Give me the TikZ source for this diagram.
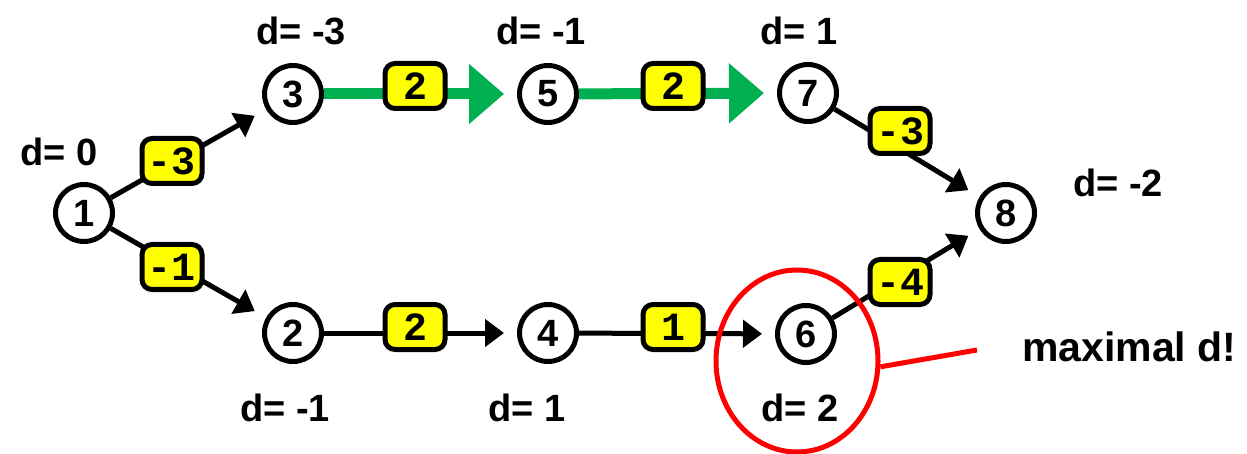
\documentclass[tikz,border=0pt]{standalone}
\usepackage{fontspec}
\setmainfont{Liberation Sans}
\newfontfamily\monof{Liberation Mono}
\usetikzlibrary{arrows.meta,shapes.geometric}
\definecolor{ogreen}{RGB}{0,176,80}
\definecolor{oyellow}{RGB}{255,255,0}
\definecolor{ored}{RGB}{255,0,0}
\tikzset{
  vtx/.style={circle, draw=black, line width=5pt, fill=white, minimum size=57pt, inner sep=0pt,
    font=\fontsize{38}{40}\selectfont\bfseries},
  wlbl/.style={rectangle, rounded corners=10pt, draw=black, line width=5pt, fill=oyellow,
    minimum width=60pt, minimum height=45pt, inner sep=0pt,
    font=\fontsize{40}{42}\selectfont\monof\bfseries},
  dlbl/.style={font=\fontsize{38}{40}\selectfont\bfseries, inner sep=0pt},
  edge/.style={line width=5pt, draw=black, shorten >=13pt, -{Triangle[length=19pt,width=27pt]}},
  gedge/.style={line width=11pt, draw=ogreen, shorten >=13pt, -{Triangle[length=35pt,width=58pt]}},
}
\begin{document}
\begin{tikzpicture}[x=1pt,y=-1pt]
\useasboundingbox (0,0) rectangle (1247,454);
% vertices
\node[vtx] (n1) at (84,213) {1};
\node[vtx] (n3) at (293,94) {3};
\node[vtx] (n5) at (548,94) {5};
\node[vtx] (n7) at (808,93) {7};
\node[vtx] (n8) at (1006,213) {8};
\node[vtx] (n2) at (293,333) {2};
\node[vtx] (n4) at (548,333) {4};
\node[vtx] (n6) at (806,334) {6};
% edges
\draw[edge] (n1) -- (n3);
\draw[edge] (n1) -- (n2);
\draw[gedge] (n3) -- (n5);
\draw[gedge] (n5) -- (n7);
\draw[edge] (n7) -- (n8);
\draw[edge] (n2) -- (n4);
\draw[edge] (n4) -- (n6);
\draw[edge] (n6) -- (n8);
% weights
\node[wlbl] (w13) at (172,161) {-3};
\node[wlbl] (w12) at (172,267) {-1};
\node[wlbl] (w35) at (415,86) {2};
\node[wlbl] (w57) at (673,86) {2};
\node[wlbl] (w78) at (900,131) {-3};
\node[wlbl] (w68) at (900,282) {-4};
\node[wlbl] (w24) at (415,327) {2};
\node[wlbl] (w46) at (673,327) {1};
% distance labels
\node[dlbl] (d3) at (301,31) {d= -3};
\node[dlbl] (d5) at (541,31) {d= -1};
\node[dlbl] (d7) at (799,31) {d= 1};
\node[dlbl] (d1) at (59,152) {d= 0};
\node[dlbl] (d8) at (1118,183) {d= -2};
\node[dlbl] (d2) at (285,408) {d= -1};
\node[dlbl] (d4) at (527,408) {d= 1};
\node[dlbl] (d6) at (800,408) {d= 2};
% highlight
\node[ellipse, draw=ored, line width=5pt, minimum width=162pt, minimum height=182pt, inner sep=0pt] (hl) at (797,361) {};
\node[font=\fontsize{41}{43}\selectfont\bfseries, inner sep=0pt, anchor=west] (mx) at (1022,347) {maximal d!};
\coordinate (hlend) at (977,350);
\draw[ored, line width=5pt] (hl.-4) -- (hlend);
\end{tikzpicture}
\end{document}
